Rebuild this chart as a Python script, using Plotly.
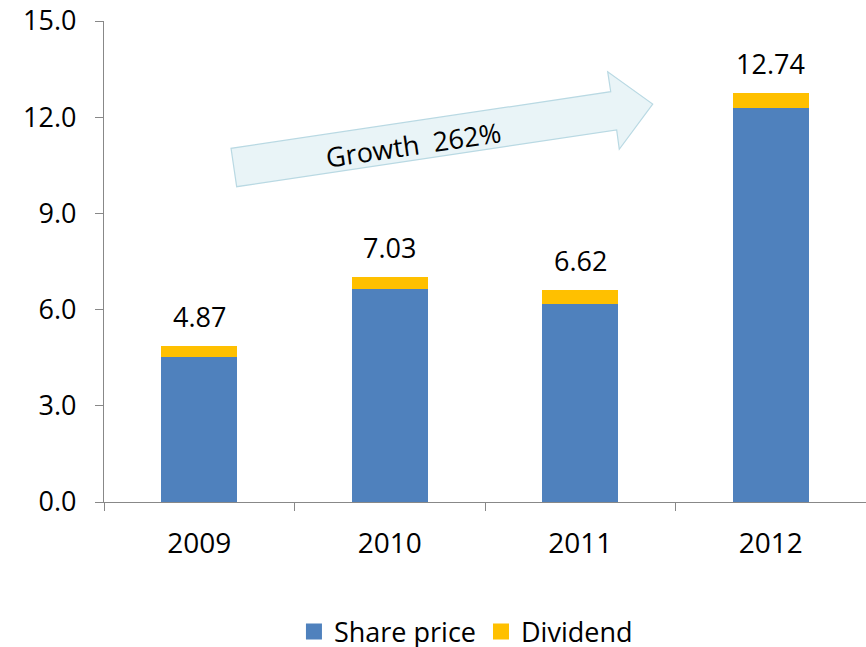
import plotly.graph_objects as go

years = ["2009", "2010", "2011", "2012"]
share_price = [4.52, 6.65, 6.18, 12.30]
totals = [4.87, 7.03, 6.62, 12.74]
dividend = [round(t - s, 2) for t, s in zip(totals, share_price)]
total_labels = ["4.87", "7.03", "6.62", "12.74"]
y_ticks = [0, 3, 6, 9, 12, 15]
y_tick_labels = ["0.0", "3.0", "6.0", "9.0", "12.0", "15.0"]

W, H = 866, 647
L, R, T, B = 104, 0, 21, 145
pw, ph = W - L - R, H - T - B

def px(x, y):
    return (x - L) / pw, (H - B - y) / ph

FONT = "Open Sans, sans-serif"
BLUE, GOLD = "#4f81bd", "#ffc000"

fig = go.Figure()
fig.add_trace(go.Bar(x=years, y=share_price, name="Share price", showlegend=False,
                     marker=dict(color=BLUE, line=dict(width=0))))
fig.add_trace(go.Bar(x=years, y=dividend, name="Dividend", showlegend=False,
                     marker=dict(color=GOLD, line=dict(width=0))))
# legend entries with larger square swatches
for nm, col in [("Share price", BLUE), ("Dividend", GOLD)]:
    fig.add_trace(go.Scatter(x=[None], y=[None], mode="markers", name=nm,
                             marker=dict(symbol="square", size=18, color=col)))

for i, (tot, lab) in enumerate(zip(totals, total_labels)):
    fig.add_annotation(x=i, y=tot, text=lab, showarrow=False, yanchor="bottom",
                       yshift=9, font=dict(size=27, color="black", family=FONT))

# decorative arrow
arrow_px = [(236.7, 186.7), (231, 148.3), (610.7, 91.7), (607.7, 71.7),
            (652.7, 104), (619.3, 149.3), (616.7, 130)]
pts = [px(a, b) for a, b in arrow_px]
path = "M " + " L ".join(f"{a:.4f},{b:.4f}" for a, b in pts) + " Z"
fig.add_shape(type="path", path=path, xref="paper", yref="paper",
              fillcolor="#e9f4f7", line=dict(color="#b9d9e3", width=1.2))
tx, ty = px(413, 144)
fig.add_annotation(x=tx, y=ty, xref="paper", yref="paper", text="Growth  262%",
                   showarrow=False, textangle=-8.4, xanchor="center", yanchor="middle",
                   font=dict(size=27, color="black", family=FONT))

fig.update_layout(
    width=W, height=H, barmode="stack", bargap=0.6,
    margin=dict(l=L, r=R, t=T, b=B, autoexpand=False),
    plot_bgcolor="white", paper_bgcolor="white",
    font=dict(family=FONT, size=27, color="black"),
    showlegend=True,
    legend=dict(orientation="h", x=0.475, xanchor="center", y=-0.27, yanchor="middle",
                font=dict(size=27, family=FONT), traceorder="normal",
                itemwidth=30),
    xaxis=dict(type="category", range=[-0.5, 3.5], showline=True, linecolor="#888888",
               linewidth=1.3, ticks="outside", ticklen=8, tickcolor="#888888",
               tickson="boundaries", tickfont=dict(size=28), showgrid=False,
               tickangle=0, ticklabelstandoff=16),
    yaxis=dict(range=[0, 15], tickvals=y_ticks, ticktext=y_tick_labels,
               showline=True, linecolor="#888888", linewidth=1.3,
               ticks="outside", ticklen=8, tickcolor="#888888",
               tickfont=dict(size=27), showgrid=False, zeroline=False,
               ticklabelstandoff=13),
)

fig.write_html("out.html", post_script="document.body.style.margin='0px';",
               config={"displayModeBar": False})
